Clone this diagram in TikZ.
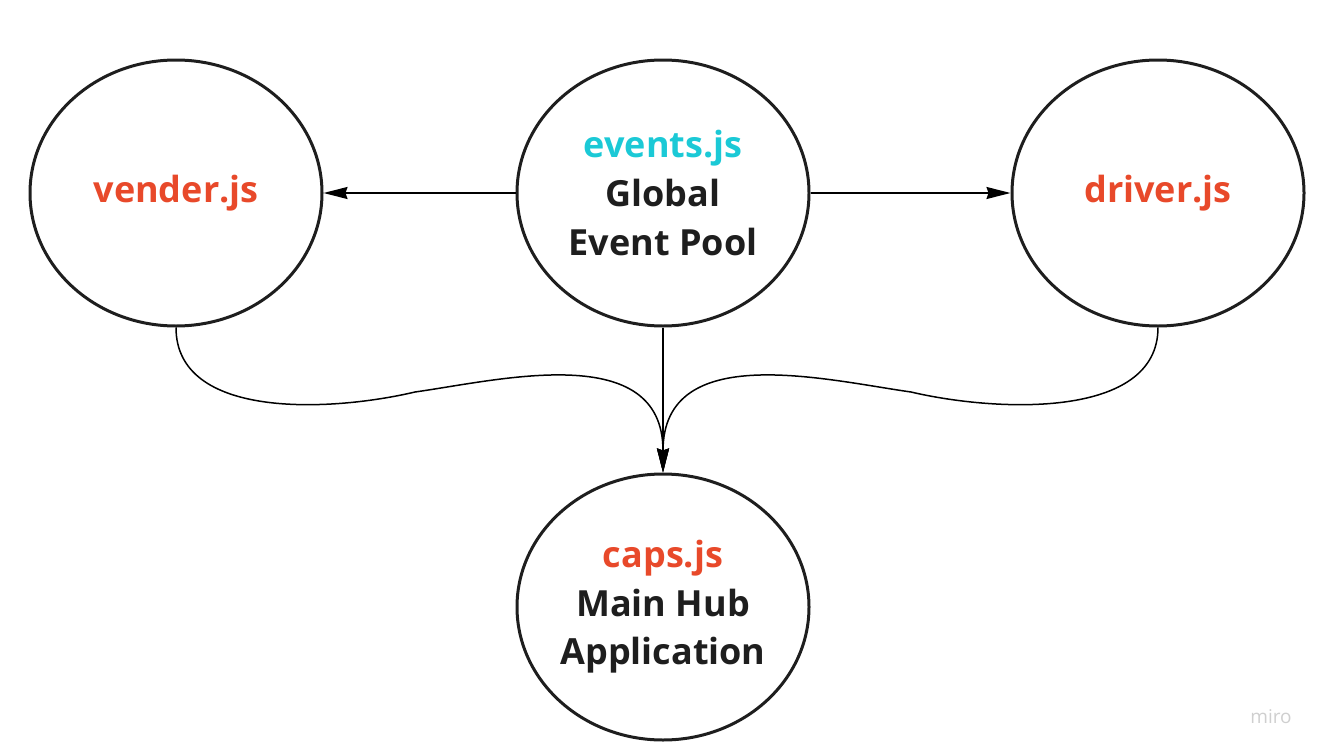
\documentclass[tikz,border=0pt]{standalone}
\usepackage{fontspec}
\setmainfont{Open Sans}
\usetikzlibrary{shapes.geometric,arrows.meta}
\definecolor{jsred}{HTML}{E8492A}
\definecolor{jscyan}{HTML}{1BC9D6}
\definecolor{txt}{HTML}{1E1E1E}
\tikzset{
  bubble/.style={ellipse,draw=txt,line width=1.5pt,minimum width=146pt,minimum height=133pt,inner sep=0pt,
    align=center,text=txt,font=\fontsize{18}{24.3}\selectfont\bfseries},
  conn/.style={line width=0.75pt,draw=black,-{Stealth[length=12pt,width=6pt,inset=1pt]}},
}
\begin{document}
\begin{tikzpicture}[x=0.5pt,y=-0.5pt]
\useasboundingbox (0,0) rectangle (1323,755);
\node[bubble] (vd) at (176,193) {\textcolor{jsred}{vender.js}};
\node[bubble] (ev) at (663,193) {\textcolor{jscyan}{events.js}\\Global\\Event Pool};
\node[bubble] (dr) at (1158,193) {\textcolor{jsred}{driver.js}};
\node[bubble] (cp) at (663,607) {\textcolor{jsred}{caps.js}\\Main Hub\\Application};
\coordinate (m1) at (415,392);
\coordinate (m2) at (911,392);
\draw[conn] (ev.west) -- (vd.east);
\draw[conn] (ev.east) -- (dr.west);
\draw[conn] (ev.south) -- (cp.north);
\draw[conn] (vd.south) .. controls +(0,92) and (330,412) .. (m1) .. controls (500,380) and +(0,-133) .. (cp.north);
\draw[conn] (dr.south) .. controls +(0,92) and (996,412) .. (m2) .. controls (826,380) and +(0,-133) .. (cp.north);
\node[text=gray!38,font=\fontsize{9.5}{11}\selectfont] (mr) at (1271,717) {miro};
\end{tikzpicture}
\end{document}
